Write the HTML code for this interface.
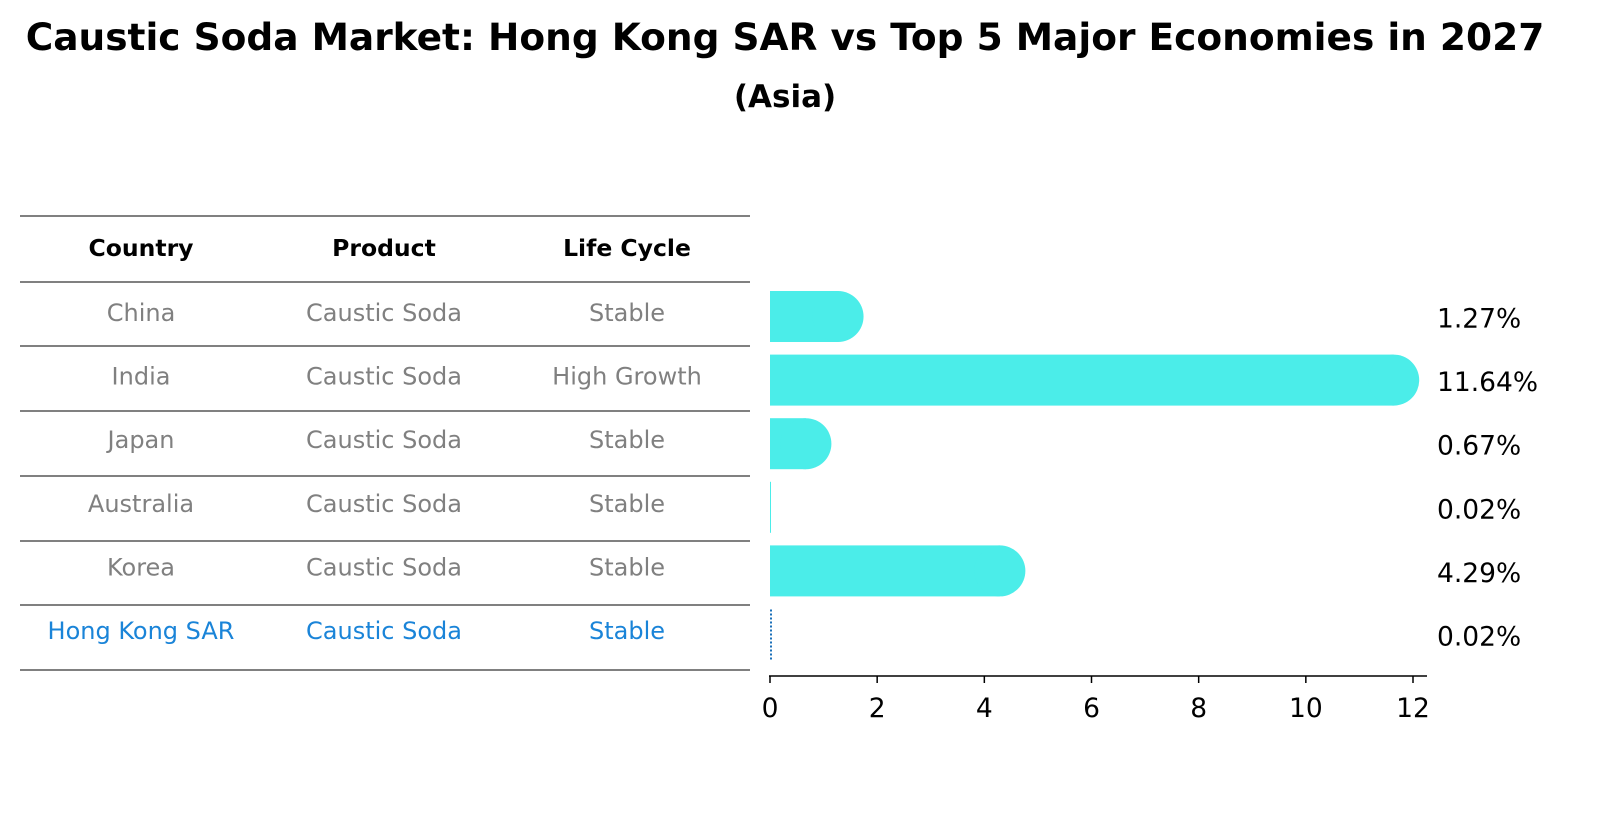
<!DOCTYPE html>
<html><head><meta charset="utf-8"><style>
html,body{margin:0;padding:0;background:#fff;overflow:hidden;width:1614px;height:823px;}
svg{display:block;}
</style></head><body>
<svg width="1614" height="823" xmlns="http://www.w3.org/2000/svg" font-family="DejaVu Sans, Liberation Sans, sans-serif">
<text x="785" y="50" text-anchor="middle" font-size="37.5" font-weight="bold">Caustic Soda Market: Hong Kong SAR vs Top 5 Major Economies in 2027</text>
<text x="785" y="107" text-anchor="middle" font-size="31" font-weight="bold">(Asia)</text>
<g id="table"></g>
<g id="bars"></g>
<g id="axis"></g>
</svg>
<script>
const countries=["China","India","Japan","Australia","Korea","Hong Kong SAR"];
const products=["Caustic Soda","Caustic Soda","Caustic Soda","Caustic Soda","Caustic Soda","Caustic Soda"];
const lifeCycles=["Stable","High Growth","Stable","Stable","Stable","Stable"];
const values=[1.27,11.64,0.67,0.02,4.29,0.02];
const ticks=[0,2,4,6,8,10,12];
const NS="http://www.w3.org/2000/svg";
function mk(tag,attrs,parent,text){const e=document.createElementNS(NS,tag);for(const k in attrs)e.setAttribute(k,attrs[k]);if(text!==undefined)e.textContent=text;parent.appendChild(e);return e;}
const xs=v=>770+v*(1413-770)/12;
const rowY=i=>316.5+i*63.6;
const tbl=document.getElementById('table');
const lineYs=[216,282,346,411,476,541,605,670];
lineYs.forEach(y=>{const l=mk('line',{x1:20,x2:750,y1:y,y2:y,stroke:'#000','stroke-width':1},tbl);

});
const colX=[141,384,627];
["Country","Product","Life Cycle"].forEach((h,j)=>{const t=mk('text',{x:colX[j],y:256,'text-anchor':'middle','font-size':23.5,'font-weight':'bold'},tbl,h);

});
countries.forEach((c,i)=>{const col=i===countries.length-1?'#1a84d8':'#808080';
[c,products[i],lifeCycles[i]].forEach((s,j)=>{const t=mk('text',{x:colX[j],y:rowY(i)+4.5,'text-anchor':'middle','font-size':24,fill:col},tbl,s);

});});
const bars=document.getElementById('bars');
values.forEach((v,i)=>{const y=rowY(i);const h=51;
if(i===values.length-1){const l=mk('line',{x1:xs(0)+1,x2:xs(0)+1,y1:y-25,y2:y+25,stroke:'#1a6fb8','stroke-width':2,'stroke-dasharray':'2,2'},bars);

}
else{const w=xs(v)-xs(0);
const g=mk('g',{},bars);


if(w<3){mk('rect',{x:xs(0),y:y-h/2,width:1,height:h,fill:'#4bede9'},g);}
else{mk('rect',{x:xs(0),y:y-h/2,width:w,height:h,fill:'#4bede9'},g);
mk('circle',{cx:xs(v),cy:y,r:h/2,fill:'#4bede9'},g);}}
const t=mk('text',{x:1437,y:y+11,'font-size':26.5},bars,v.toFixed(2)+'%');

});
const ax=document.getElementById('axis');
mk('line',{x1:769,x2:1427,y1:676,y2:676,stroke:'#000','stroke-width':1.5},ax);
ticks.forEach(v=>{mk('line',{x1:xs(v),x2:xs(v),y1:676,y2:683,stroke:'#000','stroke-width':1.5},ax);
const t=mk('text',{x:xs(v),y:717,'text-anchor':'middle','font-size':26.5},ax,v);

});
</script>
</body></html>
